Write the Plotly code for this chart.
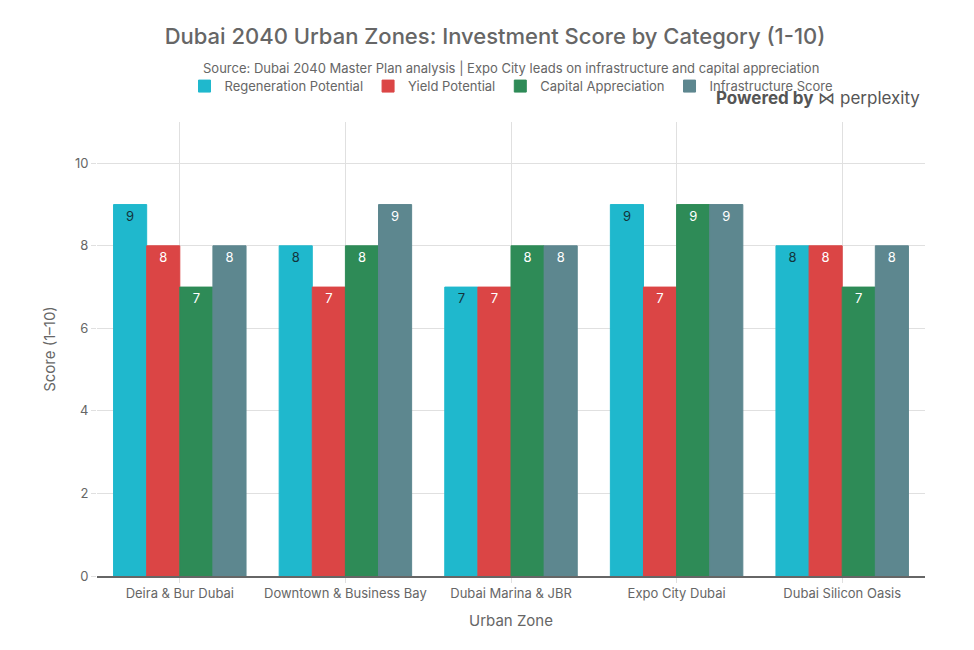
import plotly.graph_objects as go

zones = ["Deira & Bur Dubai", "Downtown & Business Bay", "Dubai Marina & JBR", "Expo City Dubai", "Dubai Silicon Oasis"]
regeneration = [9, 8, 7, 9, 8]
yield_pot = [8, 7, 7, 7, 8]
capital = [7, 8, 8, 9, 7]
infrastructure = [8, 9, 8, 9, 8]

series = [
    ("Regeneration Potential", regeneration, "#1FB8CD", "#13343B"),
    ("Yield Potential", yield_pot, "#DB4545", "#FFFFFF"),
    ("Capital Appreciation", capital, "#2E8B57", "#FFFFFF"),
    ("Infrastructure Score", infrastructure, "#5D878F", "#FFFFFF"),
]

fig = go.Figure()
for name, vals, col, tcol in series:
    fig.add_trace(go.Bar(
        name=name, x=zones, y=vals,
        marker=dict(color=col, line=dict(color=col, width=1)),
        text=vals, textposition="inside", insidetextanchor="end",
        textfont=dict(color=tcol, size=13),
        cliponaxis=False,
    ))

font = "Inter, Roboto, sans-serif"
fig.update_layout(
    width=974, height=650,
    font=dict(family=font, color="#666666", size=12),
    title=dict(
        text="Dubai 2040 Urban Zones: Investment Score by Category (1-10)",
        x=0.5, xanchor="center", y=1 - 28 / 650, yanchor="middle",
        font=dict(size=22, color="#666666", weight=500),
    ),
    barmode="group", bargap=0.2, bargroupgap=0,
    legend=dict(orientation="h", x=0.5, xanchor="center", y=1.079, yanchor="middle",
                font=dict(size=13), bgcolor="rgba(0,0,0,0)"),
    margin=dict(l=89, r=57, t=114, b=82),
    plot_bgcolor="white", paper_bgcolor="white",
    xaxis=dict(title=dict(text="Urban Zone", font=dict(size=15)), showgrid=True,
               gridcolor="#E0E0E0", showline=True, linecolor="#666666", linewidth=1.5,
               ticks="outside", ticklen=5, tickcolor="#E0E0E0", tickfont=dict(size=13)),
    yaxis=dict(title=dict(text="Score (1–10)", font=dict(size=15)), range=[0, 11],
               dtick=2, showgrid=True, gridcolor="#E0E0E0", zeroline=False,
               ticks="outside", ticklen=5, tickcolor="#E0E0E0", tickfont=dict(size=13)),
)
fig.add_annotation(text="Source: Dubai 2040 Master Plan analysis | Expo City leads on infrastructure and capital appreciation",
                   xref="paper", yref="paper", x=0.5, xanchor="center", y=1.119, yanchor="middle",
                   showarrow=False, font=dict(size=13, color="#666666"))
fig.add_annotation(text="<b>Powered by</b> ⋈ perplexity", xref="paper", yref="paper",
                   x=0.996, xanchor="right", y=1.052, yanchor="middle", showarrow=False,
                   font=dict(size=17, color="#555555"))
fig.write_html("out.html")
